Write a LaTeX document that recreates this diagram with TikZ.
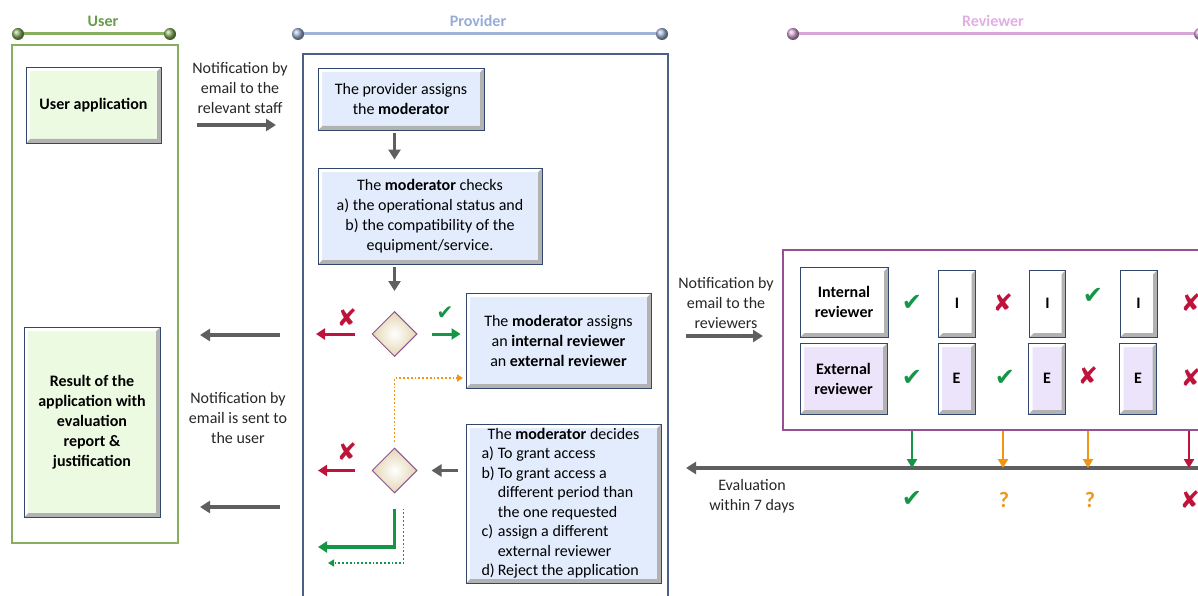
\documentclass[tikz,border=0pt]{standalone}
\usepackage{fontspec}
\setmainfont{Carlito}
\newfontfamily\symfont{DejaVu Sans}
\usetikzlibrary{arrows.meta, shapes.geometric}

\definecolor{usergreen}{RGB}{135,175,95}
\definecolor{usertitle}{RGB}{105,155,75}
\definecolor{userfill}{RGB}{236,250,226}
\definecolor{provline}{RGB}{75,95,135}
\definecolor{provtitle}{RGB}{150,172,215}
\definecolor{provbar}{RGB}{160,180,215}
\definecolor{provfill}{RGB}{226,236,252}
\definecolor{revline}{RGB}{150,80,150}
\definecolor{revtitle}{RGB}{225,175,225}
\definecolor{revbar}{RGB}{215,165,215}
\definecolor{revfill}{RGB}{236,228,250}
\definecolor{boxline}{RGB}{50,70,110}
\definecolor{arrowgray}{RGB}{95,95,95}
\definecolor{okgreen}{RGB}{20,150,70}
\definecolor{nored}{RGB}{190,20,60}
\definecolor{qorange}{RGB}{240,150,20}
\definecolor{diafill}{RGB}{228,214,178}
\definecolor{diaborder}{RGB}{140,85,140}

\tikzset{every node/.style = {font = \fontsize{16}{20}\selectfont}}
\tikzset{bevel/.style = {path picture = {
	\fill[black!30] (path picture bounding box.south west) -- (path picture bounding box.south east) -- (path picture bounding box.north east) -- ([shift={(-4pt,-4pt)}]path picture bounding box.north east) -- ([shift={(-4pt,4pt)}]path picture bounding box.south east) -- ([shift={(4pt,4pt)}]path picture bounding box.south west) -- cycle;
	\fill[white!80] (path picture bounding box.south west) -- (path picture bounding box.north west) -- (path picture bounding box.north east) -- ([shift={(-4pt,-4pt)}]path picture bounding box.north east) -- ([shift={(4pt,-4pt)}]path picture bounding box.north west) -- ([shift={(4pt,4pt)}]path picture bounding box.south west) -- cycle;}}}
\tikzset{box/.style = {shape = rectangle, draw = boxline, line width = 0.9pt, bevel, align = center, inner sep = 0pt}}
\tikzset{userbox/.style = {box, fill = userfill, font = \fontsize{16}{20}\selectfont\bfseries}}
\tikzset{provbox/.style = {box, fill = provfill}}
\tikzset{intbox/.style = {box, fill = white, font = \fontsize{16}{20}\selectfont\bfseries}}
\tikzset{extbox/.style = {box, fill = revfill, font = \fontsize{16}{20}\selectfont\bfseries}}
\tikzset{lane/.style = {shape = rectangle, line width = 1.4pt, inner sep = 0pt}}
\tikzset{title/.style = {font = \fontsize{16}{18}\selectfont\bfseries}}
\tikzset{note/.style = {align = center, text = black!85}}
\tikzset{decision/.style = {shape = diamond, draw = diaborder, line width = 1pt, inner color = white, outer color = diafill, minimum width = 45pt, minimum height = 45pt, inner sep = 0pt}}
\tikzset{okmk/.style = {text = okgreen, font = \symfont\fontsize{24}{24}\selectfont}}
\tikzset{nomk/.style = {text = nored, font = \symfont\fontsize{24}{24}\selectfont}}
\tikzset{qmk/.style = {text = qorange, font = \fontsize{22}{22}\selectfont\bfseries}}
\tikzset{flow/.style = {draw = arrowgray, line width = 3.5pt, -{Triangle[length = 10pt, width = 12pt]}}}
\tikzset{noflow/.style = {draw = nored, line width = 3pt, -{Triangle[length = 9pt, width = 11pt]}}}
\tikzset{okflow/.style = {draw = okgreen, line width = 3pt, -{Triangle[length = 9pt, width = 11pt]}}}
\tikzset{qflow/.style = {draw = qorange, line width = 1.8pt, dotted, -{Triangle[length = 6pt, width = 7pt]}}}
\tikzset{drop/.style = {line width = 2.5pt, -{Triangle[length = 9pt, width = 10pt]}}}

\begin{document}
\begin{tikzpicture}[x = 1pt, y = -1pt]
	\useasboundingbox (0,0) rectangle (1198,596);
	\clip (0,0) rectangle (1198,596);

	% lane headers
	\draw[usergreen, line width = 3pt] (18,34) -- (170,34);
	\shade[ball color = usergreen] (18,34) circle (6pt);
	\shade[ball color = usergreen] (170,34) circle (6pt);
	\node[title, text = usertitle] (usertitle) at (103,21) {User};
	\draw[provbar, line width = 3pt] (298,34) -- (662,34);
	\shade[ball color = provbar] (298,34) circle (6pt);
	\shade[ball color = provbar] (662,34) circle (6pt);
	\node[title, text = provtitle] (provtitle) at (478,21) {Provider};
	\draw[revbar, line width = 3pt] (793,34) -- (1220,34);
	\shade[ball color = revbar] (793,34) circle (6pt);
	\shade[ball color = revbar] (1200,34) circle (6pt);
	\node[title, text = revtitle] (revtitle) at (993,21) {Reviewer};

	% lanes
	\node[lane, draw = usergreen, minimum width = 166pt, minimum height = 498pt] (userlane) at (95,294) {};
	\node[lane, draw = provline, minimum width = 365pt, minimum height = 556pt] (provlane) at (485.5,332) {};
	\node[lane, draw = revline, minimum width = 432pt, minimum height = 180pt] (revlane) at (999,340) {};

	% user
	\node[userbox, minimum width = 135pt, minimum height = 76pt] (app) at (93.5,105) {User application};
	\node[userbox, minimum width = 136pt, minimum height = 190pt] (result) at (92,422) {Result of the\\application with\\evaluation\\report \&\\justification};

	% provider
	\node[provbox, minimum width = 166pt, minimum height = 62pt] (assign) at (401,99) {The provider assigns\\the \textbf{moderator}};
	\node[provbox, minimum width = 224pt, minimum height = 96pt] (check) at (430,216) {The \textbf{moderator} checks\\a) the operational status and\\b) the compatibility of the\\equipment/service.};
	\node[decision] (dec1) at (394.5,334) {};
	\node[provbox, minimum width = 185pt, minimum height = 95pt] (revassign) at (558.5,340.5) {The \textbf{moderator} assigns\\an \textbf{internal reviewer}\\an \textbf{external reviewer}};
	\node[decision] (dec2) at (394.5,470.5) {};
	\node[provbox, minimum width = 195pt, minimum height = 159pt, font = \fontsize{16}{19.5}\selectfont] (decide) at (563.5,503.5) {\begin{tabular}{@{}l@{\hspace{3pt}}l@{}}
		\multicolumn{2}{c}{The \textbf{moderator} decides}\\
		a) & To grant access\\
		b) & To grant access a\\
		   & different period than\\
		   & the one requested\\
		c) & assign a different\\
		   & external reviewer\\
		d) & Reject the application
	\end{tabular}};

	\node[nomk] (no1) at (347,318) {✘};
	\node[okmk, font = \symfont\fontsize{20}{20}\selectfont] (ok1) at (445,313) {✔};
	\node[nomk] (no2) at (347,452) {✘};

	% reviewer
	\node[intbox, minimum width = 88pt, minimum height = 70pt] (intrev) at (844,302) {Internal\\reviewer};
	\node[extbox, minimum width = 87pt, minimum height = 71pt] (extrev) at (843.5,378.5) {External\\reviewer};
	\node[intbox, minimum width = 37pt, minimum height = 67pt] (i1) at (957,303.5) {I};
	\node[extbox, minimum width = 37pt, minimum height = 71pt] (e1) at (956.5,378.5) {E};
	\node[intbox, minimum width = 36pt, minimum height = 67pt] (i2) at (1047.5,303.5) {I};
	\node[extbox, minimum width = 37pt, minimum height = 71pt] (e2) at (1047,378.5) {E};
	\node[intbox, minimum width = 37pt, minimum height = 67pt] (i3) at (1138.5,303.5) {I};
	\node[extbox, minimum width = 37pt, minimum height = 71pt] (e3) at (1138,378.5) {E};

	\node[okmk] (r1) at (912,303) {✔};
	\node[okmk] (r2) at (912,378) {✔};
	\node[nomk] (r3) at (1003,303) {✘};
	\node[okmk] (r4) at (1005,378) {✔};
	\node[okmk] (r5) at (1093,296) {✔};
	\node[nomk] (r6) at (1088,376) {✘};
	\node[nomk] (r7) at (1191,303) {✘};
	\node[nomk] (r8) at (1191,378) {✘};

	% timeline
	\coordinate (tlR) at (1200,468);
	\coordinate (tlL) at (686,468);
	\coordinate (t1) at (912,468);
	\coordinate (t2) at (1003,468);
	\coordinate (t3) at (1088,468);
	\coordinate (t4) at (1189,468);
	\draw[flow, line width = 4pt] (tlR) -- (tlL);
	\draw[drop, draw = okgreen] (revlane.south -| t1) -- (t1);
	\draw[drop, draw = qorange] (revlane.south -| t2) -- (t2);
	\draw[drop, draw = qorange] (revlane.south -| t3) -- (t3);
	\draw[drop, draw = nored] (revlane.south -| t4) -- (t4);
	\node[okmk] (v1) at (912,499) {✔};
	\node[qmk] (v2) at (1004,500) {?};
	\node[qmk] (v3) at (1090,500) {?};
	\node[nomk] (v4) at (1190,500) {✘};
	\node[note] (eval) at (752,496) {Evaluation\\within 7 days};

	% notifications between lanes
	\node[note] (note1) at (240,88) {Notification by\\email to the\\relevant staff};
	\coordinate (n1a) at (197,125);
	\coordinate (n1b) at (276,125);
	\draw[flow] (n1a) -- (n1b);
	\node[note] (note2) at (238,418) {Notification by\\email is sent to\\the user};
	\coordinate (n2a) at (280,335);
	\coordinate (n2b) at (200,335);
	\coordinate (n3a) at (280,507);
	\coordinate (n3b) at (200,507);
	\draw[flow] (n2a) -- (n2b);
	\draw[flow] (n3a) -- (n3b);
	\node[note] (note3) at (726,303) {Notification by\\email to the\\reviewers};
	\coordinate (n4a) at (686,336);
	\coordinate (n4b) at (763,336);
	\draw[flow] (n4a) -- (n4b);

	% provider flow
	\draw[flow, shorten <= 3pt, shorten >= 8pt] (assign.south -| dec1) -- (check.north -| dec1);
	\draw[flow, shorten <= 3pt, shorten >= 20pt] (check.south -| dec1) -- (dec1.north);
	\coordinate (rej1) at (316,334);
	\draw[noflow, shorten <= 17pt] (dec1.west) -- (rej1);
	\draw[okflow, shorten <= 14pt, shorten >= 5pt] (dec1.east) -- (revassign.west |- dec1);
	\coordinate (again) at (463,378);
	\draw[qflow, shorten <= 6pt] (dec2.north) |- (again);
	\draw[flow, line width = 3pt, shorten <= 8pt, shorten >= 14pt] (decide.west |- dec2) -- (dec2.east);
	\coordinate (rej2) at (318,470.5);
	\draw[noflow, shorten <= 17pt] (dec2.west) -- (rej2);
	\coordinate (acc) at (318,547);
	\coordinate (accdot) at (328,563);
	\draw[okflow, line width = 3.5pt] ([yshift = -15pt]dec2.south) |- (acc);
	\draw[okgreen, line width = 1.8pt, dotted, -{Triangle[length = 6pt, width = 7pt]}] ([shift = {(9pt,-15pt)}]dec2.south) |- (accdot);
\end{tikzpicture}
\end{document}
